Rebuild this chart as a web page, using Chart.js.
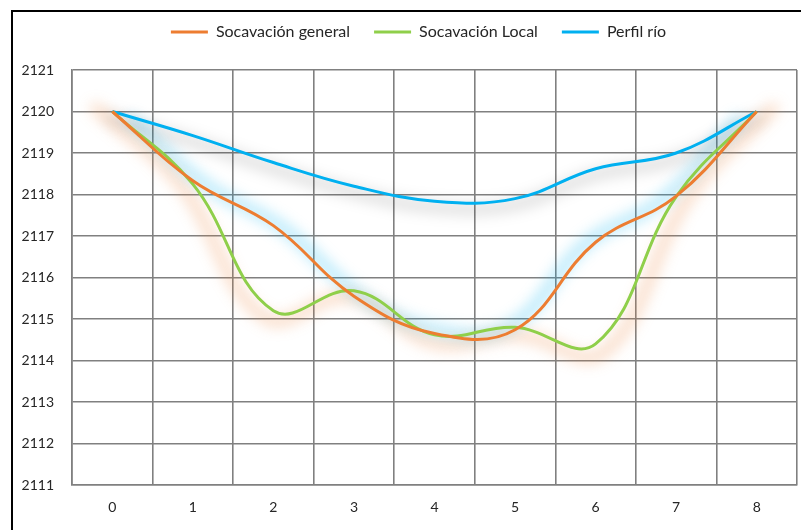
<!DOCTYPE html>
<html>
<head>
<meta charset="utf-8">
<script src="https://cdn.jsdelivr.net/npm/chart.js@4/dist/chart.umd.min.js"></script>
<style>
  html, body { margin: 0; padding: 0; background: #fff; }
  body { width: 801px; height: 530px; position: relative; overflow: hidden; }
  #frame { position: absolute; left: 11px; top: 10px; width: 900px; height: 600px; border: 2px solid #000; }
  #wrap { position: absolute; left: 0; top: 0; width: 801px; height: 530px; }
</style>
</head>
<body>
<div id="frame"></div>
<div id="wrap"><canvas id="chart" width="801" height="530"></canvas></div>
<script>
// Distance stations along the cross-section
const categories = ['0', '1', '2', '3', '4', '5', '6', '7', '8'];

// Elevations (m)
const socavacionGeneral = [2120, 2118.33, 2117.25, 2115.55, 2114.65, 2114.74, 2116.85, 2117.96, 2120];
const socavacionLocal   = [2120, 2118.25, 2115.2, 2115.68, 2114.62, 2114.8, 2114.4, 2117.95, 2120];
const perfilRio         = [2120, 2119.42, 2118.77, 2118.2, 2117.84, 2117.9, 2118.62, 2119.0, 2120];

const seriesNames = ['Socavación general', 'Socavación Local', 'Perfil río'];
const seriesColors = ['#ED7D31', '#8FCF4A', '#00B0F0'];

const yMin = 2111, yMax = 2121;

// Halo drawn behind each line: colour, scale about a centre, vertical shift
const haloStyles = [
  { color: 'rgba(0,176,240,0.27)',  scale: 0.94, cy: 300, dy: -2 },
  { color: 'rgba(237,125,49,0.25)', scale: 1.05, cy: 230, dy: 3 },
  { color: 'rgba(0,0,0,0.12)',      scale: 1.0,  cy: 0,   dy: 6 }
];

const lineHalo = {
  id: 'lineHalo',
  beforeDatasetsDraw(chart) {
    const ctx = chart.ctx;
    const area = chart.chartArea;
    const cx = (area.left + area.right) / 2;
    chart.data.datasets.forEach((ds, i) => {
      const h = haloStyles[i];
      const pts = chart.getDatasetMeta(i).data;
      if (!pts.length) return;
      ctx.save();
      ctx.filter = 'blur(7px)';
      ctx.translate(cx, h.cy + h.dy);
      ctx.scale(h.scale, h.scale);
      ctx.translate(-cx, -h.cy);
      ctx.beginPath();
      ctx.moveTo(pts[0].x, pts[0].y);
      for (let k = 1; k < pts.length; k++) {
        const a = pts[k - 1], b = pts[k];
        ctx.bezierCurveTo(a.cp2x, a.cp2y, b.cp1x, b.cp1y, b.x, b.y);
      }
      ctx.lineWidth = 12 / h.scale;
      ctx.lineCap = 'round';
      ctx.lineJoin = 'round';
      ctx.strokeStyle = h.color;
      ctx.stroke();
      ctx.restore();
    });
  }
};

// Legend band height and horizontal placement
const legendBand = {
  id: 'legendBand',
  beforeInit(chart) {
    const lg = chart.legend;
    if (!lg) return;
    const fit = lg.fit;
    lg.fit = function () { fit.call(this); this.height = 70; };
  },
  afterLayout(chart) {
    const lg = chart.legend;
    if (!lg) return;
    lg.left += 20;
    lg.right += 20;
  }
};

const tickFont = { family: 'Lato, "Liberation Sans", sans-serif', size: 14 };
const legendFont = { family: 'Lato, "Liberation Sans", sans-serif', size: 16 };

new Chart(document.getElementById('chart'), {
  type: 'line',
  data: {
    labels: categories,
    datasets: [socavacionGeneral, socavacionLocal, perfilRio].map((d, i) => ({
      label: seriesNames[i],
      data: d,
      borderColor: seriesColors[i],
      backgroundColor: seriesColors[i],
      borderWidth: 3,
      pointRadius: 0,
      tension: 0.4,
      fill: false
    }))
  },
  options: {
    responsive: false,
    animation: false,
    layout: { padding: { left: 0, right: 4, top: 0, bottom: 0 } },
    plugins: {
      tooltip: { enabled: false },
      legend: {
        position: 'top',
        labels: {
          font: legendFont,
          color: '#262626',
          boxWidth: 37,
          boxHeight: 3,
          padding: 24,
          generateLabels(chart) {
            return chart.data.datasets.map((ds, i) => ({
              text: ds.label,
              fillStyle: ds.borderColor,
              strokeStyle: ds.borderColor,
              lineWidth: 0,
              hidden: false,
              datasetIndex: i,
              fontColor: '#262626'
            }));
          }
        }
      }
    },
    scales: {
      x: {
        offset: true,
        grid: { offset: true, color: '#808080', lineWidth: 1.6, drawTicks: false },
        border: { color: '#808080', width: 1.6 },
        ticks: { font: tickFont, color: '#262626', padding: 14, maxRotation: 0 },
        afterFit(scale) { scale.height = 45; }
      },
      y: {
        min: yMin,
        max: yMax,
        grid: { color: '#808080', lineWidth: 1.6, drawTicks: false },
        border: { color: '#808080', width: 1.6 },
        ticks: {
          stepSize: 1, font: tickFont, color: '#262626', padding: 18,
          callback: (v) => String(v)
        },
        afterFit(scale) { scale.width = 72; }
      }
    }
  },
  plugins: [lineHalo, legendBand]
});
</script>
</body>
</html>
